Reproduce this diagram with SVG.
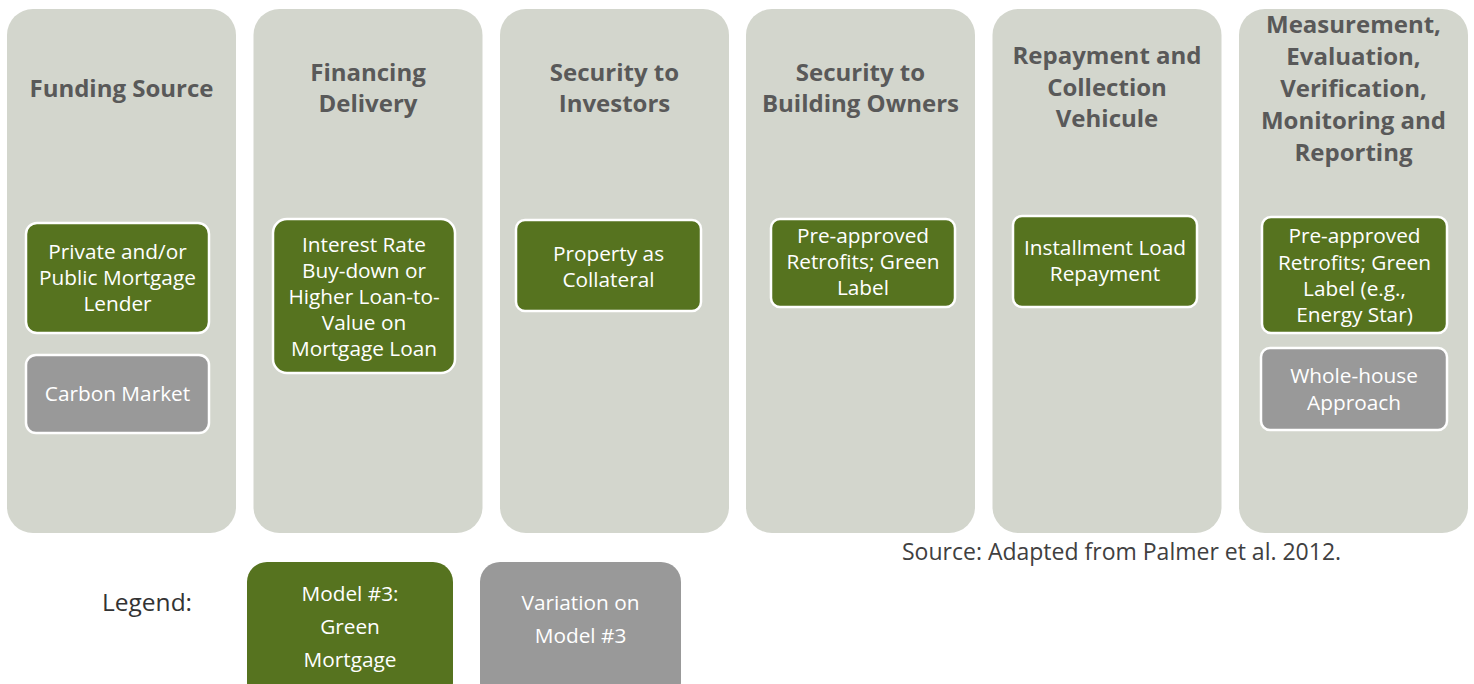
<svg xmlns="http://www.w3.org/2000/svg" width="1474" height="684" viewBox="0 0 1474 684">
<style>
.col{fill:#d3d6cd}
.hd{font-family:"Open Sans","Liberation Sans",sans-serif;font-weight:bold;font-size:24px;fill:#595959;text-anchor:middle}
.g{fill:#56731f;stroke:#ffffff;stroke-width:2.5}
.v{fill:#999999;stroke:#ffffff;stroke-width:2.5}
.bt{font-family:"Open Sans","Liberation Sans",sans-serif;font-size:20.8px;fill:#ffffff;text-anchor:middle}
.lt{font-family:"Open Sans","Liberation Sans",sans-serif;font-size:23px;fill:#404040}
</style>
<rect width="1474" height="684" fill="#ffffff"/>
<g id="col-funding">
<rect class="col" x="7" y="9" width="229" height="524" rx="26"/>
<text class="hd" x="121.5" y="97">Funding Source</text>
</g>
<g id="col-financing">
<rect class="col" x="253.5" y="9" width="229" height="524" rx="26"/>
<text class="hd" x="368" y="81">Financing</text>
<text class="hd" x="368" y="112">Delivery</text>
</g>
<g id="col-investors">
<rect class="col" x="500" y="9" width="229" height="524" rx="26"/>
<text class="hd" x="614.5" y="81">Security to</text>
<text class="hd" x="614.5" y="112">Investors</text>
</g>
<g id="col-owners">
<rect class="col" x="746" y="9" width="229" height="524" rx="26"/>
<text class="hd" x="860.5" y="81">Security to</text>
<text class="hd" x="860.5" y="112">Building Owners</text>
</g>
<g id="col-repayment">
<rect class="col" x="992.5" y="9" width="229" height="524" rx="26"/>
<text class="hd" x="1107" y="64">Repayment and</text>
<text class="hd" x="1107" y="96">Collection</text>
<text class="hd" x="1107" y="127">Vehicule</text>
</g>
<g id="col-mev">
<rect class="col" x="1239" y="9" width="229" height="524" rx="26"/>
<text class="hd" x="1353.5" y="33">Measurement,</text>
<text class="hd" x="1353.5" y="65">Evaluation,</text>
<text class="hd" x="1353.5" y="97">Verification,</text>
<text class="hd" x="1353.5" y="129">Monitoring and</text>
<text class="hd" x="1353.5" y="161">Reporting</text>
</g>
<g id="box-lender">
<rect class="g" x="26" y="223" width="183" height="110" rx="11"/>
<text class="bt" x="117.5" y="259">Private and/or</text>
<text class="bt" x="117.5" y="285">Public Mortgage</text>
<text class="bt" x="117.5" y="311">Lender</text>
</g>
<g id="box-carbon">
<rect class="v" x="26" y="355" width="183" height="78" rx="10"/>
<text class="bt" x="117.5" y="401">Carbon Market</text>
</g>
<g id="box-interest">
<rect class="g" x="273" y="219" width="182" height="154" rx="14"/>
<text class="bt" x="364" y="252">Interest Rate</text>
<text class="bt" x="364" y="278">Buy-down or</text>
<text class="bt" x="364" y="304">Higher Loan-to-</text>
<text class="bt" x="364" y="330">Value on</text>
<text class="bt" x="364" y="356">Mortgage Loan</text>
</g>
<g id="box-property">
<rect class="g" x="516" y="220" width="185" height="91" rx="9"/>
<text class="bt" x="608.5" y="261">Property as</text>
<text class="bt" x="608.5" y="287">Collateral</text>
</g>
<g id="box-retrofits">
<rect class="g" x="771" y="219" width="184" height="88" rx="9"/>
<text class="bt" x="863" y="243">Pre-approved</text>
<text class="bt" x="863" y="269">Retrofits; Green</text>
<text class="bt" x="863" y="295">Label</text>
</g>
<g id="box-installment">
<rect class="g" x="1013" y="216" width="184" height="91" rx="9"/>
<text class="bt" x="1105" y="255">Installment Load</text>
<text class="bt" x="1105" y="281">Repayment</text>
</g>
<g id="box-label">
<rect class="g" x="1262" y="217" width="185" height="116" rx="9"/>
<text class="bt" x="1354.5" y="243">Pre-approved</text>
<text class="bt" x="1354.5" y="270">Retrofits; Green</text>
<text class="bt" x="1354.5" y="296">Label (e.g.,</text>
<text class="bt" x="1354.5" y="322">Energy Star)</text>
</g>
<g id="box-wholehouse">
<rect class="v" x="1261" y="348" width="186" height="82" rx="9"/>
<text class="bt" x="1354" y="383">Whole-house</text>
<text class="bt" x="1354" y="410">Approach</text>
</g>
<g id="source">
<text class="lt" x="902" y="560">Source: Adapted from Palmer et al. 2012.</text>
</g>
<g id="legend">
<text class="lt" x="102" y="611" style="font-size:24.5px;fill:#333333">Legend:</text>
<rect x="247" y="562" width="206" height="140" rx="20" fill="#56731f"/>
<text class="bt" x="350" y="601">Model #3:</text>
<text class="bt" x="350" y="634">Green</text>
<text class="bt" x="350" y="667">Mortgage</text>
<rect x="480" y="562" width="201" height="140" rx="20" fill="#999999"/>
<text class="bt" x="580.5" y="610">Variation on</text>
<text class="bt" x="580.5" y="643">Model #3</text>
</g>
<g id="connectors"/>
</svg>
